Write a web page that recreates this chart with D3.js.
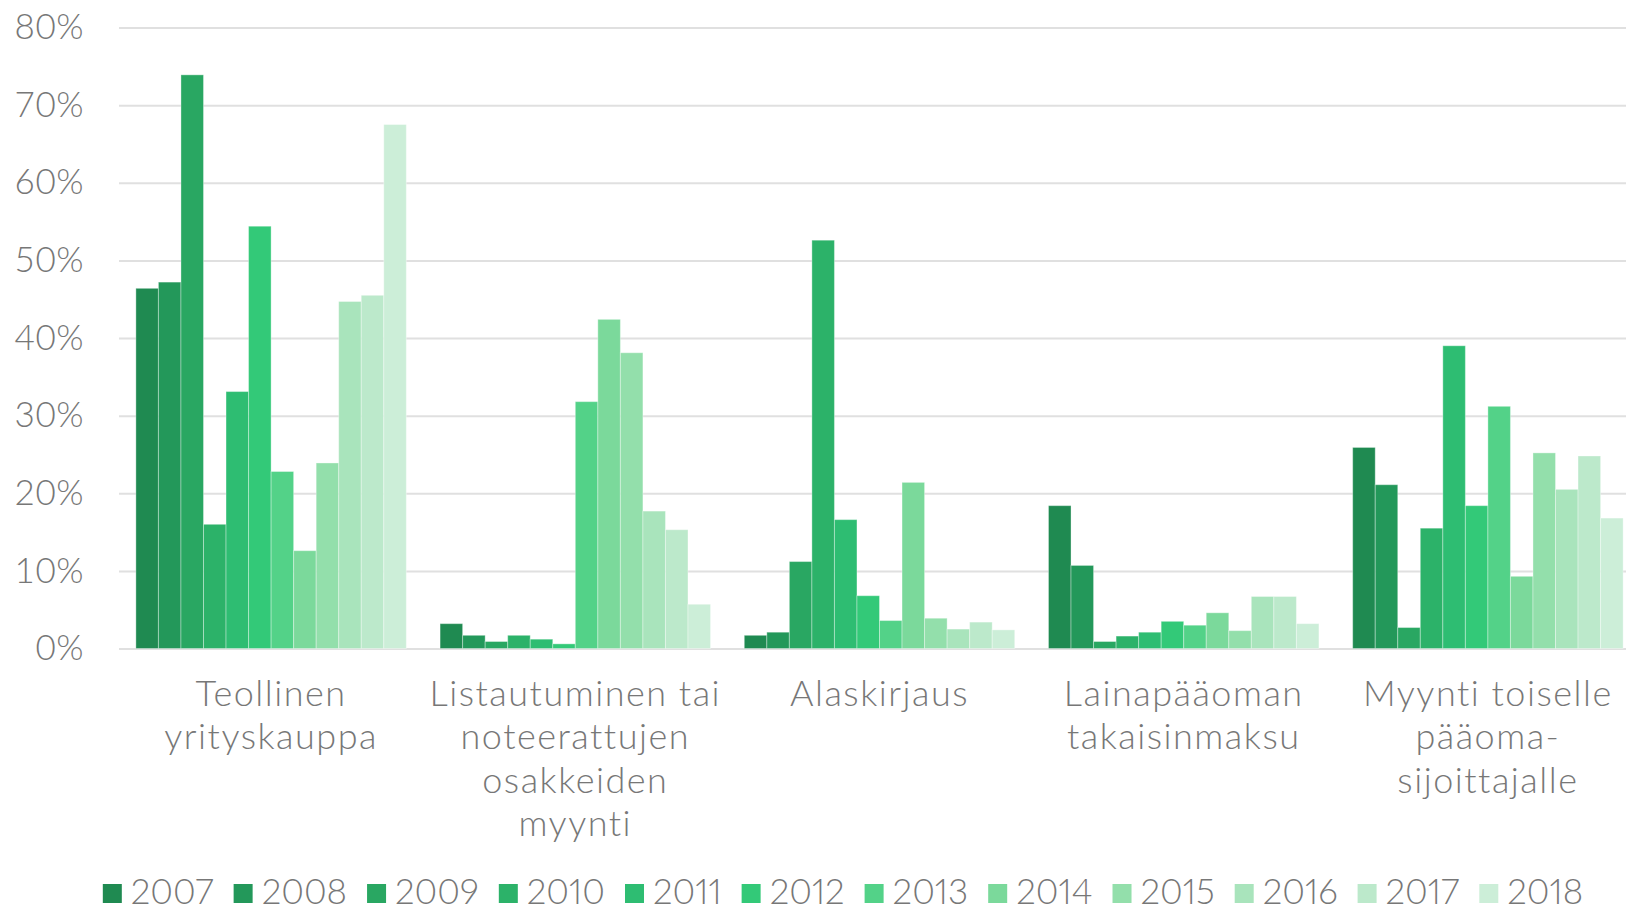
<!DOCTYPE html>
<html>
<head>
<meta charset="utf-8">
<script src="https://cdn.jsdelivr.net/npm/d3@7"></script>
<style>
    html, body { margin: 0; padding: 0; background: #fff; }
    svg { display: block; font-family: Lato, "Open Sans", sans-serif; }
</style>
</head>
<body>
<svg id="chart" width="1626" height="912"></svg>
<script>
// Category labels, already broken into lines like the original
const categories = [
    ['Teollinen', 'yrityskauppa'],
    ['Listautuminen tai', 'noteerattujen', 'osakkeiden', 'myynti'],
    ['Alaskirjaus'],
    ['Lainapääoman', 'takaisinmaksu'],
    ['Myynti toiselle', 'pääoma-', 'sijoittajalle']
];

const years = ['2007', '2008', '2009', '2010', '2011', '2012', '2013', '2014', '2015', '2016', '2017', '2018'];

// Share (%) per year, one array per category
const teollinenYrityskauppa = [46.4, 47.2, 73.9, 16.0, 33.1, 54.4, 22.8, 12.6, 23.9, 44.7, 45.5, 67.5];
const listautuminen = [3.2, 1.7, 0.9, 1.7, 1.2, 0.6, 31.8, 42.4, 38.1, 17.7, 15.3, 5.7];
const alaskirjaus = [1.7, 2.1, 11.2, 52.6, 16.6, 6.8, 3.6, 21.4, 3.9, 2.5, 3.4, 2.4];
const lainapaaomanTakaisinmaksu = [18.4, 10.7, 0.9, 1.6, 2.1, 3.5, 3.0, 4.6, 2.3, 6.7, 6.7, 3.2];
const myyntiToiselle = [25.9, 21.1, 2.7, 15.5, 39.0, 18.4, 31.2, 9.3, 25.2, 20.5, 24.8, 16.8];

const yTicks = [0, 10, 20, 30, 40, 50, 60, 70, 80];

const colors = ['#1f8a51', '#23985a', '#29a762', '#2cb269', '#2ebd72', '#33c978',
                '#53d288', '#7bd99b', '#93dfab', '#a9e4bc', '#bce9cb', '#cceed8'];

const seriesByCategory = [teollinenYrityskauppa, listautuminen, alaskirjaus, lainapaaomanTakaisinmaksu, myyntiToiselle];

const svg = d3.select('#chart');
const textColor = '#777';

const x0 = d3.scaleBand()
    .domain(d3.range(categories.length))
    .range([119, 1640])
    .paddingInner(0.111)
    .paddingOuter(0.0555);

const x1 = d3.scaleBand()
    .domain(years)
    .range([0, x0.bandwidth()]);

const y = d3.scaleLinear()
    .domain([0, 80])
    .range([648.5, 27.5]);

const color = d3.scaleOrdinal().domain(years).range(colors);

// gridlines + y labels
const yAxis = d3.axisLeft(y)
    .tickValues(yTicks)
    .tickSize(-(1626 - 119))
    .tickPadding(35)
    .tickFormat(d => d + '%');

svg.append('g')
    .attr('transform', 'translate(119,0)')
    .call(yAxis)
    .call(g => g.select('.domain').remove())
    .call(g => g.selectAll('.tick line').attr('stroke', '#e0e0e0').attr('stroke-width', 2))
    .call(g => g.selectAll('.tick text')
        .attr('fill', textColor)
        .attr('font-size', 35)
        .attr('font-family', 'Lato, sans-serif')
        .attr('font-weight', 300)
        .attr('letter-spacing', 0.5));

// bars
const groups = svg.append('g')
    .selectAll('g')
    .data(seriesByCategory)
    .join('g')
    .attr('transform', (d, i) => `translate(${x0(i)},0)`);

groups.selectAll('rect')
    .data(vals => vals.map((v, j) => ({ year: years[j], value: v })))
    .join('rect')
    .attr('x', d => x1(d.year))
    .attr('y', d => y(d.value))
    .attr('width', x1.bandwidth())
    .attr('height', d => y(0) - y(d.value))
    .attr('fill', d => color(d.year))
    .attr('stroke', 'rgba(255,255,255,0.35)')
    .attr('stroke-width', 1);

// category labels
const labels = svg.append('g')
    .selectAll('text')
    .data(categories)
    .join('text')
    .attr('text-anchor', 'middle')
    .attr('fill', textColor)
    .attr('font-size', 36)
    .attr('font-weight', 300)
    .attr('letter-spacing', 1.5)
    .attr('transform', (d, i) => `translate(${x0(i) + x0.bandwidth() / 2},706)`);

labels.selectAll('tspan')
    .data(d => d)
    .join('tspan')
    .attr('x', 0)
    .attr('y', (d, i) => i * 43.3)
    .text(d => d);

// legend
const legend = svg.append('g');
const items = legend.selectAll('g')
    .data(years)
    .join('g');

items.append('rect')
    .attr('width', 19)
    .attr('height', 19)
    .attr('y', 884)
    .attr('fill', d => color(d));

items.append('text')
    .attr('x', 28)
    .attr('y', 904)
    .attr('fill', textColor)
    .attr('font-size', 35)
    .attr('font-weight', 300)
    .style('font-variant-numeric', 'proportional-nums')
    .text(d => d);

let offset = 0;
items.each(function () {
    const w = 28 + d3.select(this).select('text').node().getComputedTextLength();
    d3.select(this).attr('transform', `translate(${offset},0)`);
    offset += w + 20;
});
const legendWidth = offset - 20;
legend.attr('transform', `translate(${843 - legendWidth / 2},0)`);
</script>
</body>
</html>
